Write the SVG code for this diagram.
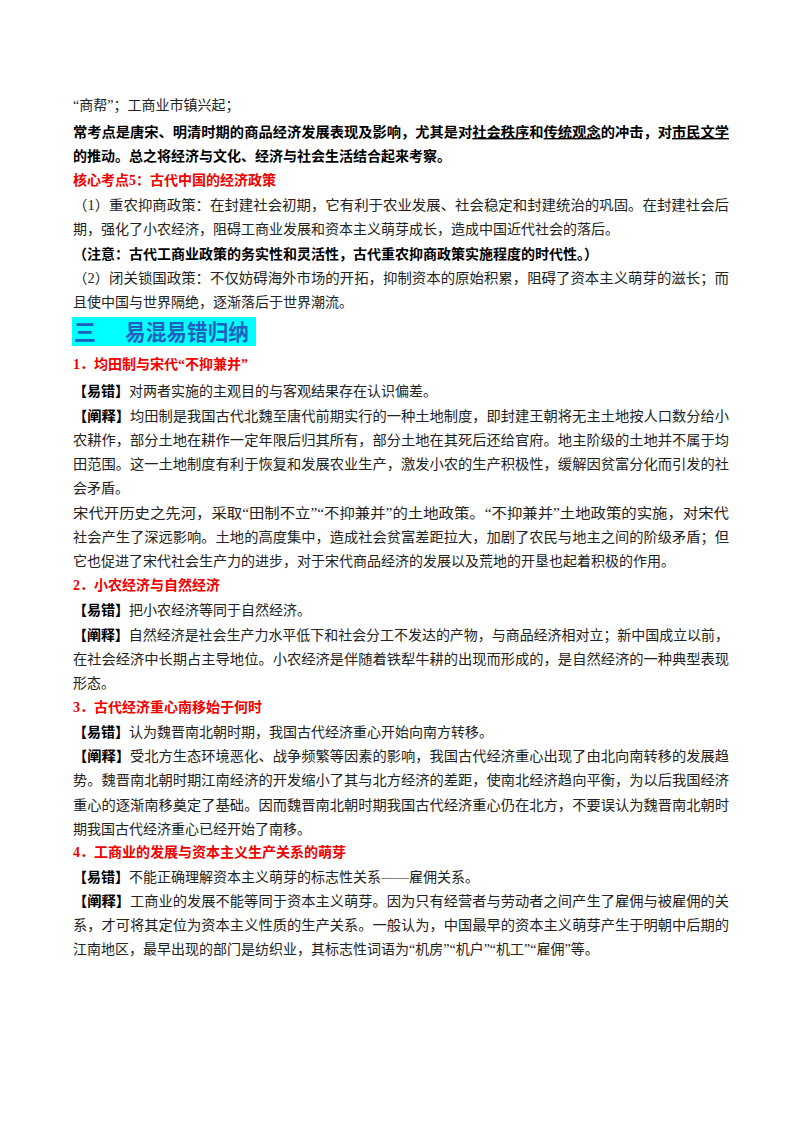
<svg xmlns="http://www.w3.org/2000/svg" width="800" height="1132" viewBox="0 0 800 1132">
<style>
text{font-family:"Liberation Serif","Noto Sans CJK SC",serif;font-size:14px;fill:#222}
.b{font-weight:bold;fill:#000}
.r{font-weight:bold;fill:#f00000}
.u{text-decoration:underline}
.h{font-family:"Liberation Sans","Noto Sans CJK SC",sans-serif;font-size:22px;font-weight:bold;fill:#1f5fbf}
</style>
<rect width="800" height="1132" fill="#fff"/>
<text x="73" y="110">“商帮”；工商业市镇兴起；</text>
<text x="73" y="137" class="b" textLength="656" lengthAdjust="spacingAndGlyphs">常考点是唐宋、明清时期的商品经济发展表现及影响，尤其是对<tspan class="u">社会秩序</tspan>和<tspan class="u">传统观念</tspan>的冲击，对<tspan class="u">市民文学</tspan></text>
<text x="73" y="161" class="b">的推动。总之将经济与文化、经济与社会生活结合起来考察。</text>
<text x="73" y="185" class="r">核心考点5：古代中国的经济政策</text>
<text x="73" y="210" textLength="656" lengthAdjust="spacingAndGlyphs">（1）重农抑商政策：在封建社会初期，它有利于农业发展、社会稳定和封建统治的巩固。在封建社会后</text>
<text x="73" y="234">期，强化了小农经济，阻碍工商业发展和资本主义萌芽成长，造成中国近代社会的落后。</text>
<text x="73" y="259" class="b">（注意：古代工商业政策的务实性和灵活性，古代重农抑商政策实施程度的时代性。）</text>
<text x="73" y="283" textLength="656" lengthAdjust="spacingAndGlyphs">（2）闭关锁国政策：不仅妨碍海外市场的开拓，抑制资本的原始积累，阻碍了资本主义萌芽的滋长；而</text>
<text x="73" y="307">且使中国与世界隔绝，逐渐落后于世界潮流。</text>
<rect x="72" y="317" width="184" height="29" fill="#00ffff"/>
<text x="74" y="340" class="h">三</text>
<text x="125" y="340" class="h" textLength="124" lengthAdjust="spacingAndGlyphs">易混易错归纳</text>
<text x="73" y="369" class="r">1．均田制与宋代“不抑兼并”</text>
<text x="73" y="396"><tspan class="b">【易错】</tspan>对两者实施的主观目的与客观结果存在认识偏差。</text>
<text x="73" y="421" textLength="656" lengthAdjust="spacingAndGlyphs"><tspan class="b">【阐释】</tspan>均田制是我国古代北魏至唐代前期实行的一种土地制度，即封建王朝将无主土地按人口数分给小</text>
<text x="73" y="445" textLength="656" lengthAdjust="spacingAndGlyphs">农耕作，部分土地在耕作一定年限后归其所有，部分土地在其死后还给官府。地主阶级的土地并不属于均</text>
<text x="73" y="469" textLength="656" lengthAdjust="spacingAndGlyphs">田范围。这一土地制度有利于恢复和发展农业生产，激发小农的生产积极性，缓解因贫富分化而引发的社</text>
<text x="73" y="493">会矛盾。</text>
<text x="73" y="518" textLength="656" lengthAdjust="spacingAndGlyphs">宋代开历史之先河，采取“田制不立”“不抑兼并”的土地政策。“不抑兼并”土地政策的实施，对宋代</text>
<text x="73" y="542" textLength="656" lengthAdjust="spacingAndGlyphs">社会产生了深远影响。土地的高度集中，造成社会贫富差距拉大，加剧了农民与地主之间的阶级矛盾；但</text>
<text x="73" y="566">它也促进了宋代社会生产力的进步，对于宋代商品经济的发展以及荒地的开垦也起着积极的作用。</text>
<text x="73" y="590" class="r">2．小农经济与自然经济</text>
<text x="73" y="615"><tspan class="b">【易错】</tspan>把小农经济等同于自然经济。</text>
<text x="73" y="640" textLength="656" lengthAdjust="spacingAndGlyphs"><tspan class="b">【阐释】</tspan>自然经济是社会生产力水平低下和社会分工不发达的产物，与商品经济相对立；新中国成立以前，</text>
<text x="73" y="664" textLength="656" lengthAdjust="spacingAndGlyphs">在社会经济中长期占主导地位。小农经济是伴随着铁犁牛耕的出现而形成的，是自然经济的一种典型表现</text>
<text x="73" y="688">形态。</text>
<text x="73" y="712" class="r">3．古代经济重心南移始于何时</text>
<text x="73" y="737"><tspan class="b">【易错】</tspan>认为魏晋南北朝时期，我国古代经济重心开始向南方转移。</text>
<text x="73" y="761" textLength="656" lengthAdjust="spacingAndGlyphs"><tspan class="b">【阐释】</tspan>受北方生态环境恶化、战争频繁等因素的影响，我国古代经济重心出现了由北向南转移的发展趋</text>
<text x="73" y="785" textLength="656" lengthAdjust="spacingAndGlyphs">势。魏晋南北朝时期江南经济的开发缩小了其与北方经济的差距，使南北经济趋向平衡，为以后我国经济</text>
<text x="73" y="810" textLength="656" lengthAdjust="spacingAndGlyphs">重心的逐渐南移奠定了基础。因而魏晋南北朝时期我国古代经济重心仍在北方，不要误认为魏晋南北朝时</text>
<text x="73" y="834">期我国古代经济重心已经开始了南移。</text>
<text x="73" y="857" class="r">4．工商业的发展与资本主义生产关系的萌芽</text>
<text x="73" y="882"><tspan class="b">【易错】</tspan>不能正确理解资本主义萌芽的标志性关系——雇佣关系。</text>
<text x="73" y="906" textLength="656" lengthAdjust="spacingAndGlyphs"><tspan class="b">【阐释】</tspan>工商业的发展不能等同于资本主义萌芽。因为只有经营者与劳动者之间产生了雇佣与被雇佣的关</text>
<text x="73" y="930" textLength="656" lengthAdjust="spacingAndGlyphs">系，才可将其定位为资本主义性质的生产关系。一般认为，中国最早的资本主义萌芽产生于明朝中后期的</text>
<text x="73" y="954">江南地区，最早出现的部门是纺织业，其标志性词语为“机房”“机户”“机工”“雇佣”等。</text>
</svg>
